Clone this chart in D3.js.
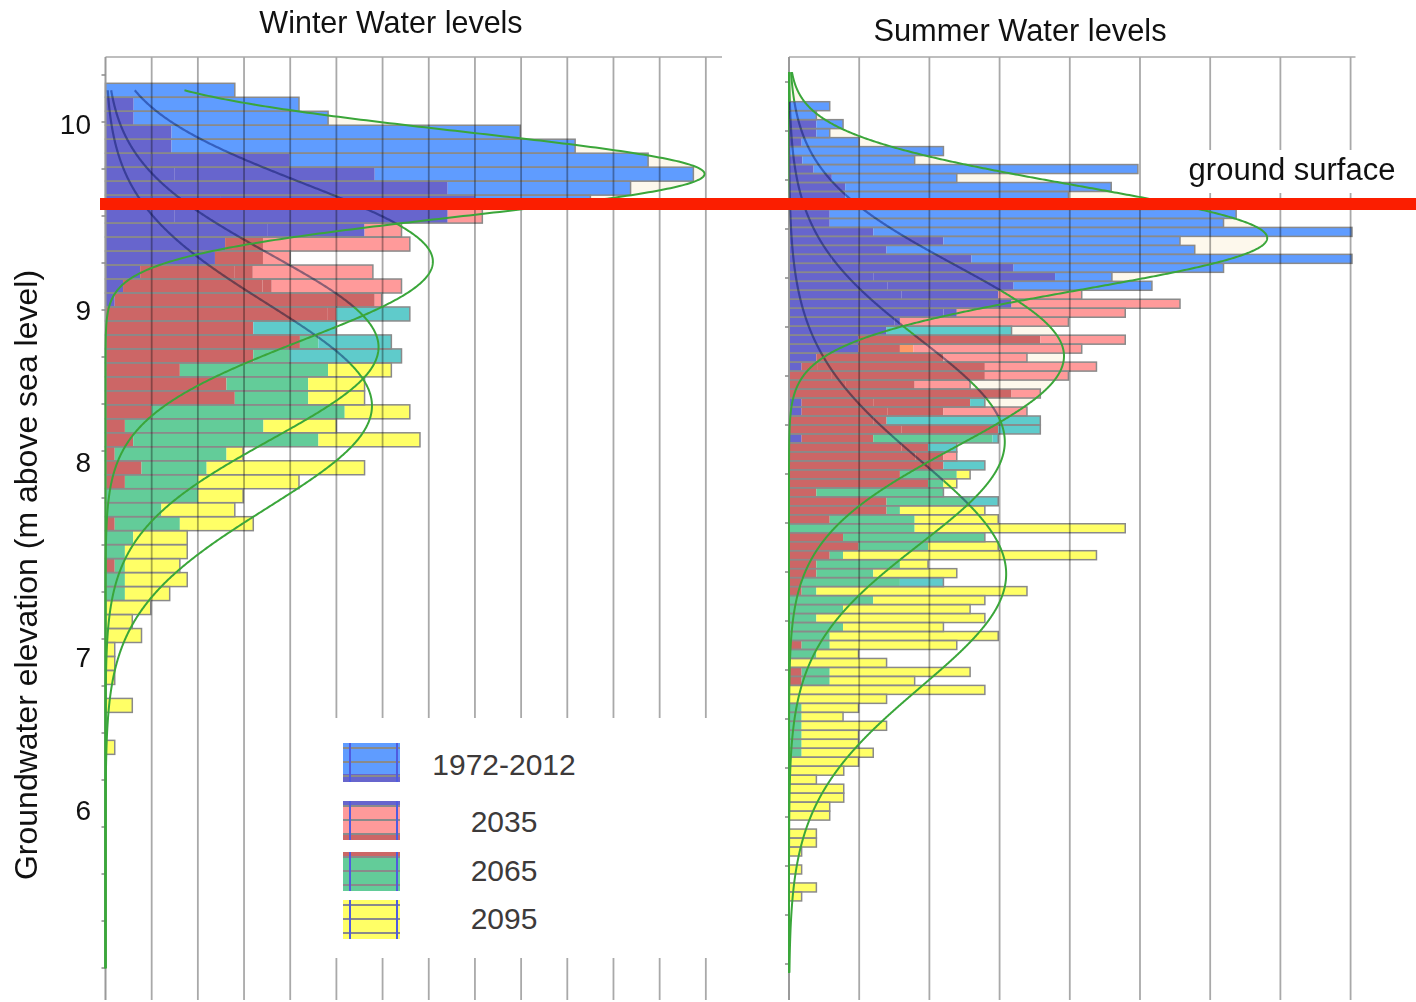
<!DOCTYPE html>
<html>
<head>
<meta charset="utf-8">
<script src="https://cdn.jsdelivr.net/npm/d3@7"></script>
<style>
  html, body { margin: 0; padding: 0; background: #fff; }
  svg { display: block; font-family: "Liberation Sans", Arial, sans-serif; }
</style>
</head>
<body>
<svg id="chart" width="1416" height="1002"></svg>
<script>
// ---------------------------------------------------------------
// Histogram bin counts per elevation row (top row = highest level)
// ---------------------------------------------------------------
const seriesNames = ["1972-2012", "2035", "2065", "2095"];
const elevationLabels = [10, 9, 8, 7, 6];

// Winter water levels, 48 rows
const winter1972 = [2.80, 4.19, 4.82, 8.98, 10.17, 11.75, 12.73, 11.37, 10.50, 7.41,
  5.61, 2.59, 2.37, 0.75, 0.38, 0.20, 0, 0, 0, 0, 0, 0, 0, 0, 0, 0, 0, 0, 0, 0,
  0, 0, 0, 0, 0, 0, 0, 0, 0, 0, 0, 0, 0, 0, 0, 0, 0, 0];
const winter2035 = [0, 0.61, 0.61, 1.43, 1.43, 3.99, 5.83, 7.41, 8.00, 8.16,
  6.41, 6.59, 4.00, 5.79, 6.41, 5.98, 5.00, 3.20, 4.21, 3.20, 1.61, 2.62, 2.80, 1.00,
  0.42, 0.60, 0.20, 0.78, 0.42, 0, 0, 0.20, 0, 0, 0.20, 0, 0, 0, 0, 0, 0, 0, 0, 0,
  0, 0, 0, 0];
const winter2065 = [0, 0, 0, 0, 0, 1.00, 1.50, 2.00, 2.50, 3.00, 3.50, 3.41, 3.41, 3.19,
  3.60, 5.83, 6.59, 5.00, 6.19, 6.41, 4.82, 4.39, 4.39, 5.18, 3.42, 4.61, 2.62, 2.19,
  2.01, 2.01, 1.21, 1.61, 0.60, 0.42, 0.42, 0.42, 0.42, 0, 0, 0, 0, 0, 0, 0, 0, 0, 0, 0];
const winter2095 = [0, 0, 0, 0, 0, 0, 0, 0, 1.00, 1.50, 2.00, 2.00, 2.00, 2.80, 3.40,
  5.00, 4.80, 3.00, 4.61, 3.99, 6.19, 5.61, 5.61, 6.59, 5.00, 6.81, 2.98, 5.61, 4.19,
  2.98, 2.80, 3.20, 1.77, 1.77, 1.61, 1.77, 1.39, 0.98, 0.58, 0.78, 0.20, 0.20, 0.20,
  0, 0.58, 0, 0, 0.20];

// Summer water levels, 89 rows
const summer1972 = [0.58, 0.39, 0.77, 0.58, 1.00, 2.20, 1.79, 4.97, 2.39, 4.59,
  3.98, 5.20, 6.37, 6.19, 8.02, 5.57, 5.78, 8.02, 6.19, 4.60, 5.17, 2.98, 3.17, 2.39,
  1.58, 1.39, 0.99, 0.99, 0.39, 0.18, 0, 0, 0, 0.18, 0.18, 0, 0, 0.18, 0, 0,
  0, 0, 0, 0, 0, 0, 0, 0, 0, 0, 0, 0, 0, 0, 0, 0, 0, 0, 0, 0,
  0, 0, 0, 0, 0, 0, 0, 0, 0, 0, 0, 0, 0, 0, 0, 0, 0, 0, 0, 0,
  0, 0, 0, 0, 0, 0, 0, 0, 0];
const summer2035 = [0, 0, 0.39, 0.39, 0.18, 0, 0.19, 0.35, 0.61, 0.80,
  0.80, 0.50, 0.58, 0.58, 1.20, 2.20, 1.39, 2.60, 3.20, 3.79, 3.20, 4.17, 5.57, 4.79,
  3.98, 1.39, 4.79, 4.17, 3.39, 4.38, 3.98, 2.58, 3.58, 2.58, 3.39, 1.39, 2.98, 1.20,
  1.98, 2.39, 2.20, 1.58, 1.98, 0.39, 1.39, 1.39, 0.58, 0, 0.77, 0.99, 0.58, 0.39,
  0.39, 0.18, 0.18, 0, 0, 0, 0, 0, 0.18, 0, 0, 0.18, 0.18, 0, 0, 0, 0, 0,
  0, 0, 0, 0, 0, 0, 0, 0, 0, 0, 0, 0, 0, 0, 0, 0, 0, 0, 0];
const summer2065 = [0, 0, 0, 0, 0, 0, 0, 0, 0, 0, 0, 0, 0, 0, 0, 0, 0, 0.60, 1.00,
  1.20, 1.40, 1.60, 2.00, 2.20, 1.50, 3.17, 3.58, 1.58, 2.20, 2.79, 2.79, 1.79, 3.17,
  2.79, 2.20, 3.58, 3.58, 2.98, 2.39, 2.20, 2.79, 2.39, 2.20, 2.20, 2.98, 1.58, 1.79,
  1.79, 2.79, 1.98, 0.77, 1.58, 1.20, 2.20, 0.39, 1.20, 0.77, 0.39, 0.77, 0.58, 0.58,
  0.39, 0, 0.58, 0.58, 0, 0, 0.18, 0.18, 0.18, 0.18, 0.18, 0.18, 0, 0, 0, 0, 0, 0,
  0, 0, 0, 0, 0, 0, 0, 0, 0, 0];
const summer2095 = [0, 0, 0, 0, 0, 0, 0, 0, 0, 0, 0, 0, 0, 0, 0, 0, 0, 0, 0, 0, 0,
  0, 0, 0, 0, 0, 0, 1.77, 0, 0.40, 0.60, 0.80, 1.00, 1.20, 1.40, 1.20, 1.60, 2.90,
  1.60, 1.80, 2.00, 2.58, 2.39, 2.20, 2.58, 2.79, 2.98, 4.79, 2.79, 2.98, 4.38, 1.98,
  2.39, 1.58, 3.39, 2.79, 2.58, 2.79, 2.20, 2.98, 2.39, 0.99, 1.39, 2.58, 1.79, 2.79,
  1.39, 0.99, 0.77, 1.39, 0.99, 0.99, 1.20, 0.99, 0.78, 0.39, 0.78, 0.78, 0.58, 0.58,
  0, 0.39, 0.39, 0.18, 0, 0.18, 0, 0.39, 0.18];

// ---------------------------------------------------------------
const W = 1416, H = 1002;
const colors = {
  blue: "#5f9cff", purple: "#6765cd", pink: "#ff9a9a", darkRed: "#cc6666",
  orange: "#ff9966", teal: "#5fcbcb", green: "#63cc99", yellow: "#ffff66",
  cream: "#fdf8ec", grid: "#a9a9a9", outline: "#8a8a8a", fit: "#3aa63a",
  tint: "#8c9cc0", ground: "#fb1e00", text: "#111", legendText: "#3d3a3a"
};

// colour of a bar piece, from which scenarios cover it (1972, 2035, 2065, 2095)
function pieceColor([b, p, g, y]) {
  if (b && p) return colors.purple;
  if (b) return colors.blue;
  if (p && g) return colors.darkRed;
  if (p && y) return colors.orange;
  if (p) return colors.pink;
  if (g && y) return colors.green;
  if (g) return colors.teal;
  return colors.yellow;
}

// normal curve fitted to a histogram (rows are unit-width bins)
function fitCurve(values, span) {
  const total = d3.sum(values);
  const mean = d3.sum(values, (v, i) => v * (i + 0.5)) / total;
  const variance = d3.sum(values, (v, i) => v * (i + 0.5 - mean) ** 2) / total;
  const k = total / Math.sqrt(2 * Math.PI * variance);
  return d3.range(span[0], span[1] + 1e-9, 0.05)
    .map(t => ({ t, v: k * Math.exp(-((t - mean) ** 2) / (2 * variance)) }));
}

const svg = d3.select("#chart");
svg.append("rect").attr("width", W).attr("height", H).attr("fill", "#fff");
const defs = svg.append("defs");

const panels = [
  {
    key: "winter",
    series: [winter1972, winter2035, winter2065, winter2095],
    x: d3.scaleLinear().domain([0, 13.35]).range([105.5, 722]),
    y: d3.scaleLinear().domain([0, 48]).range([83.3, 83.3 + 13.98 * 48]),
    gridUnits: d3.range(1, 14),
    frameTop: 57, frameBottom: 1000,
    curveSpan: [0.5, 63.3],
    shaded: [0],
    tickY: d3.scaleLinear().domain([10, 9]).range([122, 310]),
    tickValues: d3.range(10.25, 5.3, -0.25)
  },
  {
    key: "summer",
    series: [summer1972, summer2035, summer2065, summer2095],
    x: d3.scaleLinear().domain([0, 8.07]).range([789, 1355.5]),
    y: d3.scaleLinear().domain([0, 89]).range([101.7, 101.7 + 8.98 * 89]),
    gridUnits: d3.range(1, 9),
    frameTop: 57, frameBottom: 1000,
    curveSpan: [-3.3, 97],
    shaded: [0, 1],
    tickY: d3.scaleLinear().domain([10.25, 10]).range([82, 131]),
    tickValues: d3.range(10.25, 5.6, -0.25)
  }
];

function drawPanel(p) {
  const g = svg.append("g").attr("class", "panel " + p.key);
  const { x, y } = p;
  const n = p.series[0].length;
  const fits = p.series.map(s => fitCurve(s, p.curveSpan));

  // pale fill under the fitted curves of the earlier scenarios
  const area = d3.area().x0(x(0)).x1(d => x(d.v)).y(d => y(d.t));
  p.shaded.forEach(si => {
    g.append("path").datum(fits[si]).attr("fill", colors.cream).attr("d", area);
  });

  // bar pieces: each row split wherever one of the scenario bars ends
  const rows = d3.range(n).map(i => ({ i, vals: p.series.map(s => s[i]) }));
  const pieces = [];
  rows.forEach(r => {
    const cuts = Array.from(new Set([0, ...r.vals.filter(v => v > 0)])).sort((a, b) => a - b);
    for (let k = 1; k < cuts.length; k++) {
      pieces.push({ i: r.i, a: cuts[k - 1], b: cuts[k], cover: r.vals.map(v => v >= cuts[k]) });
    }
  });
  g.append("g").selectAll("rect").data(pieces).join("rect")
    .attr("x", d => x(d.a)).attr("width", d => x(d.b) - x(d.a))
    .attr("y", d => y(d.i)).attr("height", d => y(d.i + 1) - y(d.i))
    .attr("fill", d => pieceColor(d.cover));

  // outline around each row's longest bar
  g.append("g").selectAll("rect").data(rows.filter(r => d3.max(r.vals) > 0)).join("rect")
    .attr("x", x(0)).attr("width", r => x(d3.max(r.vals)) - x(0))
    .attr("y", r => y(r.i)).attr("height", r => y(r.i + 1) - y(r.i))
    .attr("fill", "none").attr("stroke", colors.outline).attr("stroke-width", 1.5);

  // vertical grid, darkening whatever lies beneath
  g.append("g").style("mix-blend-mode", "multiply").selectAll("line").data(p.gridUnits).join("line")
    .attr("x1", d => x(d)).attr("x2", d => x(d))
    .attr("y1", p.frameTop).attr("y2", p.frameBottom)
    .attr("stroke", colors.grid).attr("stroke-width", 1.8);

  // frame: top edge and value axis with minor ticks
  g.append("line").attr("x1", x(0)).attr("x2", x.range()[1])
    .attr("y1", p.frameTop).attr("y2", p.frameTop)
    .attr("stroke", colors.grid).attr("stroke-width", 1.5);
  g.append("line").attr("x1", x(0)).attr("x2", x(0))
    .attr("y1", p.frameTop).attr("y2", p.frameBottom)
    .attr("stroke", "#9a9a9a").attr("stroke-width", 2);
  g.append("g").selectAll("line").data(p.tickValues).join("line")
    .attr("x1", x(0) - 4).attr("x2", x(0))
    .attr("y1", d => p.tickY(d)).attr("y2", d => p.tickY(d))
    .attr("stroke", "#8a8a8a").attr("stroke-width", 1.5);

  p.fits = fits;
}

function drawCurves(p) {
  const g = svg.append("g").attr("class", "fits " + p.key);
  const { x, y } = p;
  const line = d3.line().x(d => x(d.v)).y(d => y(d.t));
  // later scenarios lie underneath the bars of the earlier ones
  p.series.forEach((s, si) => {
    if (si === 0) return;
    const clip = defs.append("clipPath").attr("id", `under-${p.key}-${si}`);
    const mask = defs.append("mask").attr("id", `open-${p.key}-${si}`)
      .attr("maskUnits", "userSpaceOnUse").attr("x", 0).attr("y", 0)
      .attr("width", W).attr("height", H);
    mask.append("rect").attr("width", W).attr("height", H).attr("fill", "#fff");
    for (let h = 0; h < si; h++) {
      p.series[h].forEach((v, i) => {
        if (v <= 0) return;
        const attrs = { x: x(0), y: y(i), width: x(v) - x(0), height: y(i + 1) - y(i) };
        const c = clip.append("rect"), m = mask.append("rect").attr("fill", "#000");
        Object.entries(attrs).forEach(([k, val]) => { c.attr(k, val); m.attr(k, val); });
      });
    }
  });
  [3, 2, 1, 0].forEach(si => {
    const path = g.append("path").datum(p.fits[si]).attr("d", line)
      .attr("fill", "none").attr("stroke", colors.fit).attr("stroke-width", 2);
    if (si > 0) {
      path.attr("mask", `url(#open-${p.key}-${si})`);
      g.append("path").datum(p.fits[si]).attr("d", line)
        .attr("fill", "none").attr("stroke", colors.tint).attr("stroke-width", 2.2)
        .attr("clip-path", `url(#under-${p.key}-${si})`)
        .style("mix-blend-mode", "multiply");
    }
  });
}

panels.forEach(drawPanel);

// legend panel (covers the grid behind it)
const legendRowY = [743, 801, 852, 900];
const legendTextY = [775, 832, 881, 929];
const legend = svg.append("g").attr("class", "legend");
legend.append("rect").attr("x", 318).attr("y", 718).attr("width", 404).attr("height", 240).attr("fill", "#fff");
const swatchFill = [colors.blue, colors.pink, colors.green, colors.yellow];
const swatchTop = [null, colors.purple, colors.darkRed, null];
const swatchBottom = [colors.purple, colors.darkRed, null, null];
seriesNames.forEach((name, k) => {
  const sx = 343, sy = legendRowY[k], sw = 57, sh = 39;
  const sg = legend.append("g");
  sg.append("rect").attr("x", sx).attr("y", sy).attr("width", sw).attr("height", sh).attr("fill", swatchFill[k]);
  if (swatchTop[k]) sg.append("rect").attr("x", sx).attr("y", sy).attr("width", sw).attr("height", k === 1 ? 6 : 4).attr("fill", swatchTop[k]);
  if (swatchBottom[k]) sg.append("rect").attr("x", sx).attr("y", sy + sh - (k === 0 ? 8 : 5)).attr("width", sw).attr("height", k === 0 ? 8 : 5).attr("fill", swatchBottom[k]);
  [5, 19, 33].forEach(off => sg.append("line").attr("x1", sx).attr("x2", sx + sw)
    .attr("y1", sy + off).attr("y2", sy + off).attr("stroke", colors.outline).attr("stroke-width", 2));
  [7, 54].forEach(off => sg.append("line").attr("x1", sx + off).attr("x2", sx + off)
    .attr("y1", sy).attr("y2", sy + sh).attr("stroke", "#4f5be0").attr("stroke-width", 2));
  legend.append("text").attr("x", 504).attr("y", legendTextY[k]).attr("text-anchor", "middle")
    .attr("font-size", 30).attr("fill", colors.legendText).text(name);
});

panels.forEach(drawCurves);

// ground surface marker
svg.append("rect").attr("x", 1180).attr("y", 150).attr("width", 230).attr("height", 43).attr("fill", "#fff");
svg.append("rect").attr("x", 100).attr("y", 198).attr("width", W - 100).attr("height", 12).attr("fill", colors.ground);
svg.append("text").attr("x", 1292).attr("y", 180).attr("text-anchor", "middle")
  .attr("font-size", 31).attr("fill", colors.text).text("ground surface");

// titles
svg.append("text").attr("x", 391).attr("y", 33).attr("text-anchor", "middle")
  .attr("font-size", 30.5).attr("fill", colors.text).text("Winter Water levels");
svg.append("text").attr("x", 1020).attr("y", 41).attr("text-anchor", "middle")
  .attr("font-size", 30.8).attr("fill", colors.text).text("Summer Water levels");

// elevation labels on the winter axis
const labelY = d3.scaleLinear().domain(elevationLabels).range([124, 310, 462, 657, 810]);
svg.append("g").selectAll("text").data(elevationLabels).join("text")
  .attr("x", 91).attr("y", d => labelY(d)).attr("dy", "0.36em").attr("text-anchor", "end")
  .attr("font-size", 28).attr("fill", colors.text).text(d => d);
svg.append("text").attr("transform", "translate(37,575) rotate(-90)").attr("text-anchor", "middle")
  .attr("font-size", 32).attr("fill", colors.text).text("Groundwater elevation (m above sea level)");
</script>
</body>
</html>
